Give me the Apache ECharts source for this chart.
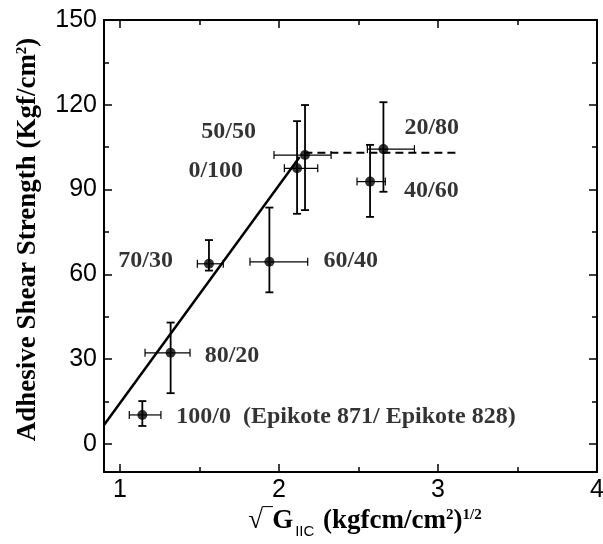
<!DOCTYPE html>
<html>
<head>
<meta charset="utf-8">
<script src="https://cdn.jsdelivr.net/npm/echarts@6/dist/echarts.min.js"></script>
<style>
html, body { margin: 0; padding: 0; background: #fff; }
#chart { width: 603px; height: 544px; }
</style>
</head>
<body>
<div id="chart"></div>
<script>
// blend ratio Epikote 871 / Epikote 828
var blends = ['100/0  (Epikote 871/ Epikote 828)', '80/20', '70/30', '60/40', '0/100', '50/50', '40/60', '20/80'];
var sqrtG = [1.141, 1.319, 1.560, 1.940, 2.114, 2.164, 2.573, 2.657];
var sqrtGLow = [1.059, 1.158, 1.487, 1.818, 2.034, 1.969, 2.491, 2.556];
var sqrtGHigh = [1.258, 1.441, 1.650, 2.181, 2.244, 2.328, 2.669, 2.852];
var strength = [10.2, 32.2, 63.7, 64.4, 97.5, 102.2, 92.8, 104.3];
var strengthLow = [6.3, 17.9, 61.3, 53.6, 81.4, 82.7, 80.3, 89.2];
var strengthHigh = [15.1, 42.9, 72.1, 83.6, 114.2, 119.9, 105.8, 120.9];
var fitLine = [[0.9, 6.6], [2.13, 101.5]];
var plateauLine = [[2.16, 103], [3.12, 103]];
var xTicks = [1, 2, 3, 4];
var xMinorTicks = [1.5, 2.5, 3.5];
var yTicks = [0, 30, 60, 90, 120, 150];
var yMinorTicks = [15, 45, 75, 105, 135];

// where each label sits next to its point
var labelPlace = [
  { side: 'right', gap: 29, dy: 2 },
  { side: 'right', gap: 29, dy: 3 },
  { side: 'left', gap: 31, dy: -3 },
  { side: 'right', gap: 49, dy: -1 },
  { side: 'left', gap: 49, dy: 2 },
  { side: 'left', gap: 44, dy: -23 },
  { side: 'right', gap: 29, dy: 9 },
  { side: 'right', gap: 16, dy: -21 }
];

var serif = '"Liberation Serif", "Times New Roman", serif';
var sans = '"Liberation Sans", Arial, sans-serif';

var points = blends.map(function (b, i) {
  var p = labelPlace[i];
  return {
    name: b,
    value: [sqrtG[i], strength[i]],
    label: { position: p.side, distance: p.gap, offset: [0, p.dy] }
  };
});
var errData = sqrtG.map(function (x, i) {
  return [x, strength[i], sqrtGLow[i], sqrtGHigh[i], strengthLow[i], strengthHigh[i]];
});

function axisX(grid, pos, ticks, len, showLine, showLabel) {
  return {
    type: 'value', gridIndex: grid, min: 0.9, max: 4, position: pos,
    axisLine: { show: showLine, onZero: false, lineStyle: { color: '#000', width: 2 } },
    axisTick: { show: true, inside: true, length: len, customValues: ticks, lineStyle: { color: '#000', width: 1.5 } },
    axisLabel: { show: showLabel, customValues: ticks, color: '#000', fontSize: 25, fontFamily: sans, margin: 6 },
    splitLine: { show: false }
  };
}
function axisY(grid, pos, ticks, len, showLine, showLabel) {
  return {
    type: 'value', gridIndex: grid, min: -10, max: 150, position: pos,
    axisLine: { show: showLine, onZero: false, lineStyle: { color: '#000', width: 2 } },
    axisTick: { show: true, inside: true, length: len, customValues: ticks, lineStyle: { color: '#000', width: 1.5 } },
    axisLabel: { show: showLabel, customValues: ticks, color: '#000', fontSize: 25, fontFamily: sans, margin: 7 },
    splitLine: { show: false }
  };
}

var xMain = axisX(0, 'bottom', xTicks, 8, true, true);
xMain.name = '{a|√‾}{b|G}{s|IIC}{b| (kgfcm/cm}{p|2}{b|)}{p|1/2}';
xMain.nameLocation = 'middle';
xMain.nameGap = 28;
xMain.nameTextStyle = {
  padding: [0, 0, 0, 29],
  rich: {
    a: { fontFamily: serif, fontWeight: 'bold', fontSize: 27, color: '#000' },
    b: { fontFamily: serif, fontWeight: 'bold', fontSize: 27, color: '#000' },
    s: { fontFamily: sans, fontSize: 15, color: '#000', verticalAlign: 'top', lineHeight: 15, padding: [16, 2, 0, 2] },
    p: { fontFamily: serif, fontWeight: 'bold', fontSize: 15, color: '#000', verticalAlign: 'top', lineHeight: 15 }
  }
};

var yMain = axisY(0, 'left', yTicks, 8, true, true);
yMain.name = '{b|Adhesive Shear Strength (Kgf/cm}{p|2}{b|)}';
yMain.nameLocation = 'middle';
yMain.nameRotate = 90;
yMain.nameGap = 62;
yMain.nameTextStyle = {
  padding: [0, 0, 0, 13],
  rich: {
    b: { fontFamily: serif, fontWeight: 'bold', fontSize: 27, color: '#000' },
    p: { fontFamily: serif, fontWeight: 'bold', fontSize: 15, color: '#000', verticalAlign: 'top', lineHeight: 15 }
  }
};

var plotRect = { left: 104, right: 6, top: 20, bottom: 72, containLabel: false, outerBoundsMode: 'none' };

var chart = echarts.init(document.getElementById('chart'));
chart.setOption({
  animation: false,
  backgroundColor: '#fff',
  // grid 0 carries the data and major ticks, grid 1 (same box) only minor ticks
  grid: [Object.assign({}, plotRect), Object.assign({}, plotRect)],
  xAxis: [
    xMain,
    axisX(0, 'top', xTicks, 8, true, false),
    axisX(1, 'bottom', xMinorTicks, 5, false, false),
    axisX(1, 'top', xMinorTicks, 5, false, false)
  ],
  yAxis: [
    yMain,
    axisY(0, 'right', yTicks, 8, true, false),
    axisY(1, 'left', yMinorTicks, 5, false, false),
    axisY(1, 'right', yMinorTicks, 5, false, false)
  ],
  series: [
    {
      type: 'line', data: fitLine, showSymbol: false, silent: true,
      lineStyle: { color: '#000', width: 2.5 }, z: 2
    },
    {
      type: 'line', data: plateauLine, showSymbol: false, silent: true,
      lineStyle: { color: '#000', width: 2, type: [8, 5] }, z: 2
    },
    {
      type: 'custom', data: errData, z: 3, silent: true,
      renderItem: function (params, api) {
        var c = api.coord([api.value(0), api.value(1)]);
        var xl = api.coord([api.value(2), api.value(1)])[0];
        var xh = api.coord([api.value(3), api.value(1)])[0];
        var yl = api.coord([api.value(0), api.value(4)])[1];
        var yh = api.coord([api.value(0), api.value(5)])[1];
        var cap = 4;
        var hs = { stroke: '#000', lineWidth: 1.2 };
        var vs = { stroke: '#000', lineWidth: 1.8 };
        return {
          type: 'group',
          children: [
            { type: 'line', shape: { x1: xl, y1: c[1], x2: xh, y2: c[1] }, style: hs },
            { type: 'line', shape: { x1: xl, y1: c[1] - cap, x2: xl, y2: c[1] + cap }, style: hs },
            { type: 'line', shape: { x1: xh, y1: c[1] - cap, x2: xh, y2: c[1] + cap }, style: hs },
            { type: 'line', shape: { x1: c[0], y1: yl, x2: c[0], y2: yh }, style: vs },
            { type: 'line', shape: { x1: c[0] - cap, y1: yl, x2: c[0] + cap, y2: yl }, style: vs },
            { type: 'line', shape: { x1: c[0] - cap, y1: yh, x2: c[0] + cap, y2: yh }, style: vs }
          ]
        };
      }
    },
    {
      type: 'scatter', data: points, symbol: 'circle', symbolSize: 10, z: 4,
      itemStyle: { color: '#000' },
      label: {
        show: true,
        formatter: '{b}',
        color: '#000',
        fontFamily: serif,
        fontWeight: 'bold',
        fontSize: 24
      }
    }
  ]
});
</script>
</body>
</html>
